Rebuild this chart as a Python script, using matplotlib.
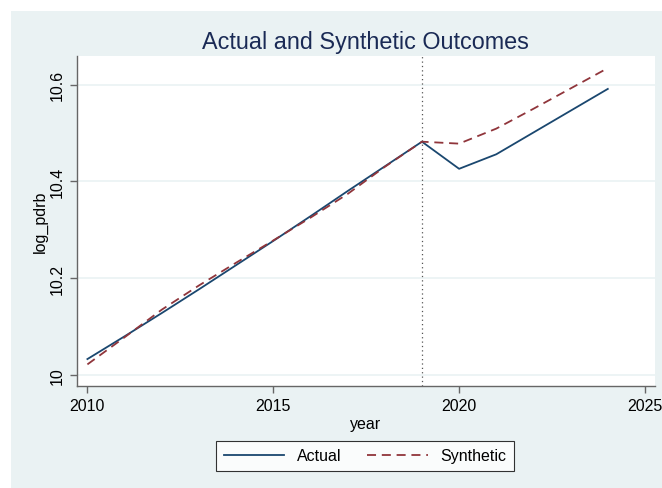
import matplotlib
matplotlib.use("Agg")
import matplotlib.pyplot as plt
from matplotlib.patches import Rectangle

years = [2010, 2011, 2012, 2013, 2014, 2015, 2016, 2017, 2018, 2019, 2020, 2021, 2022, 2023, 2024]
actual = [10.033, 10.080, 10.128, 10.177, 10.227, 10.277, 10.328, 10.380, 10.431, 10.482,
          10.426, 10.456, 10.501, 10.546, 10.591]
synthetic = [10.022, 10.078, 10.135, 10.185, 10.232, 10.278, 10.325, 10.374, 10.430, 10.482,
             10.478, 10.509, 10.550, 10.592, 10.634]
treat_year = 2019
xticks = [2010, 2015, 2020, 2025]
yticks = [10.0, 10.2, 10.4, 10.6]
ytick_labels = ["10", "10.2", "10.4", "10.6"]

plt.rcParams['font.family'] = ['Liberation Sans', 'DejaVu Sans']

W, H = 662, 489
fig = plt.figure(figsize=(W / 100, H / 100), dpi=100, facecolor='white')
bg = '#EAF2F3'
fig.patches.append(Rectangle((11 / W, 0), 1, (H - 12) / H, transform=fig.transFigure,
                             facecolor=bg, edgecolor='none', zorder=-10))

left, right, top, bottom = 77, 655, 57, 386.7
ax = fig.add_axes([left / W, (H - bottom) / H, (right - left) / W, (bottom - top) / H])
ax.set_facecolor('white')

navy = '#1a476f'
maroon = '#90353b'
ax.plot(years, actual, color=navy, lw=1.3, label='Actual', zorder=3)
ax.plot(years, synthetic, color=maroon, lw=1.3, ls=(0, (5, 3.2)), label='Synthetic', zorder=3)
ax.axvline(treat_year, color='#555555', lw=0.9, ls=(0, (1, 2.5)), zorder=2)

ax.set_xlim(2009.72, 2025.27)
ax.set_ylim(9.978, 10.659)
ax.set_xticks(xticks)
ax.set_yticks(yticks)
ax.set_yticklabels(ytick_labels, rotation=90, va='center')
ax.grid(axis='y', color='#EAF2F3', lw=1.2, zorder=0)
ax.set_axisbelow(True)

for s in ['top', 'right']:
    ax.spines[s].set_visible(False)
for s in ['left', 'bottom']:
    ax.spines[s].set_color('#666666')
    ax.spines[s].set_linewidth(1.0)
ax.tick_params(axis='both', direction='out', length=5, width=1.0, color='#666666',
               labelsize=11.5, labelcolor='black', pad=4)

ax.set_xlabel('year', fontsize=11.5, labelpad=2)
ax.set_ylabel('log_pdrb', fontsize=11.5, labelpad=1)

fig.text(365 / W, 1 - 43 / H, 'Actual and Synthetic Outcomes', ha='center', va='center',
         fontsize=16.8, color='#1a2a55')

leg = fig.legend(loc='center', bbox_to_anchor=(365 / W, 1 - 457 / H), ncol=2,
                 frameon=True, fancybox=False, fontsize=11.5, handlelength=3.8,
                 columnspacing=1.6, handletextpad=0.8, borderpad=0.45)
leg.get_frame().set_edgecolor('black')
leg.get_frame().set_linewidth(0.8)
leg.get_frame().set_facecolor('white')

fig.savefig('out.png', dpi=100, facecolor=fig.get_facecolor())
